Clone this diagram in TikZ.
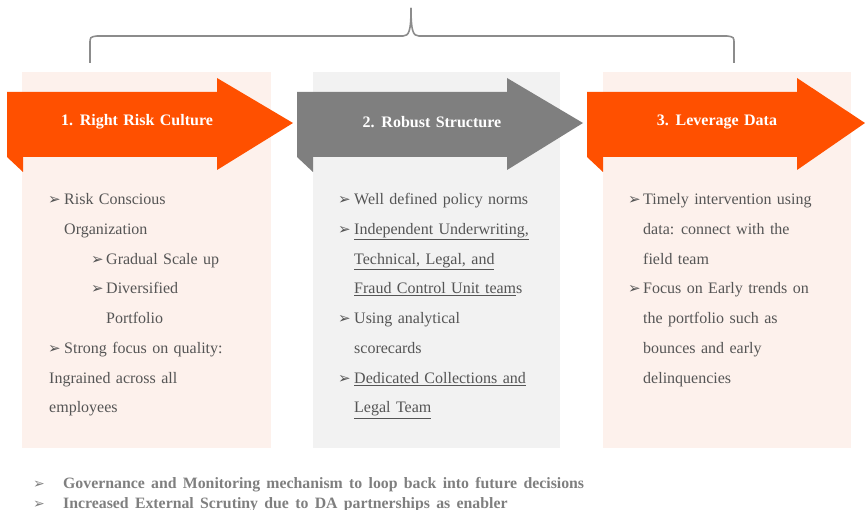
\documentclass[tikz,border=0pt]{standalone}
\usepackage{fontspec}
\setmainfont[WordSpace=1.35]{Liberation Serif}
\newfontfamily\btmfont[WordSpace=1.6]{Liberation Serif}
\newfontfamily\dvfont{DejaVu Sans}
\definecolor{orangeA}{HTML}{FF5000}
\definecolor{grayA}{HTML}{7F7F7F}
\definecolor{panelA}{HTML}{FDF1EC}
\definecolor{panelB}{HTML}{F2F2F2}
\definecolor{braceC}{HTML}{8C8C8C}
\definecolor{txtgray}{HTML}{555555}
\definecolor{btmgray}{HTML}{7F7F7F}
\newcommand\bigarrowshape[3]{%
  \fill[#3] (#1,92) -- (#1+210,92) -- (#1+210,78) -- (#2,123) -- (#1+210,170) -- (#1+210,157)
    -- (#1+16,157) -- (#1+16,172) -- (#1,157) -- cycle;}
\begin{document}
\begin{tikzpicture}[x=1pt,y=-1pt,
  txt/.style={anchor=base west, inner sep=0pt, text=txtgray, font=\fontsize{16}{18}\selectfont},
  bul/.style={anchor=base west, inner sep=0pt, text=txtgray, font=\dvfont\fontsize{15}{16}\selectfont},
  arrowlabel/.style={inner sep=0pt, text=white, font=\bfseries\fontsize{16}{18}\selectfont},
  btm/.style={anchor=base west, inner sep=0pt, text=btmgray, font=\btmfont\bfseries\fontsize{15.8}{16}\selectfont},
  btmbul/.style={anchor=base west, inner sep=0pt, text=btmgray, font=\dvfont\fontsize{14}{16}\selectfont},
  bracestyle/.style={draw=braceC, line width=1.6pt}]
\useasboundingbox (0,0) rectangle (865,510);
\clip (0,0) rectangle (865,510);
% panels
\fill[panelA] (22,72) rectangle (271,448);
\fill[panelB] (313,72) rectangle (560,448);
\fill[panelA] (603,72) rectangle (851,448);
% brace
\draw[bracestyle] (90,63) -- (90,44) .. controls (90,37) .. (97,36) -- (403,36)
  .. controls (409,36) and (411,31) .. (411,8);
\draw[bracestyle] (411,8) .. controls (411,31) and (413,36) .. (419,36) -- (727,36)
  .. controls (734,37) .. (734,44) -- (734,63);
% arrows
\bigarrowshape{7}{293}{orangeA}
\bigarrowshape{297}{583}{grayA}
\bigarrowshape{587}{865}{orangeA}
\node[arrowlabel] (a1) at (137,122) {1. Right Risk Culture};
\node[arrowlabel] (a2) at (432,122) {2. Robust Structure};
\node[arrowlabel] (a3) at (717,122) {3. Leverage Data};
% panel 1
\node[bul] (p1b1) at (48,205) {➢};
\node[txt] (p1l1) at (64,205) {Risk Conscious};
\node[txt] (p1l2) at (64,234.7) {Organization};
\node[bul] (p1b3) at (91,264.4) {➢};
\node[txt] (p1l3) at (106,264.4) {Gradual Scale up};
\node[bul] (p1b4) at (91,294) {➢};
\node[txt] (p1l4) at (106,294) {Diversified};
\node[txt] (p1l5) at (106,323.8) {Portfolio};
\node[bul] (p1b6) at (48,353.5) {➢};
\node[txt] (p1l6) at (64,353.5) {Strong focus on quality:};
\node[txt] (p1l7) at (49,383.2) {Ingrained across all};
\node[txt] (p1l8) at (49,413) {employees};
% panel 2
\node[bul] (p2b1) at (338,205) {➢};
\node[txt] (p2l1) at (354,205) {Well defined policy norms};
\node[bul] (p2b2) at (338,234.7) {➢};
\node[txt] (p2l2) at (354,234.7) {\underline{Independent Underwriting,}};
\node[txt] (p2l3) at (354,264.4) {\underline{Technical, Legal, and}};
\node[txt] (p2l4) at (354,294) {\underline{Fraud Control Unit team}s};
\node[bul] (p2b5) at (338,323.8) {➢};
\node[txt] (p2l5) at (354,323.8) {Using analytical};
\node[txt] (p2l6) at (354,353.5) {scorecards};
\node[bul] (p2b7) at (338,383.2) {➢};
\node[txt] (p2l7) at (354,383.2) {\underline{Dedicated Collections and}};
\node[txt] (p2l8) at (354,413) {\underline{Legal Team}};
% panel 3
\node[bul] (p3b1) at (628,205) {➢};
\node[txt] (p3l1) at (643,205) {Timely intervention using};
\node[txt] (p3l2) at (643,234.7) {data: connect with the};
\node[txt] (p3l3) at (643,264.4) {field team};
\node[bul] (p3b4) at (628,294) {➢};
\node[txt] (p3l4) at (643,294) {Focus on Early trends on};
\node[txt] (p3l5) at (643,323.8) {the portfolio such as};
\node[txt] (p3l6) at (643,353.5) {bounces and early};
\node[txt] (p3l7) at (643,383.2) {delinquencies};
% bottom
\node[btmbul] (bb1) at (33,489) {➢};
\node[btm] (bt1) at (63,489) {Governance and Monitoring mechanism to loop back into future decisions};
\node[btmbul] (bb2) at (33,508) {➢};
\node[btm] (bt2) at (63,508) {Increased External Scrutiny due to DA partnerships as enabler};
\end{tikzpicture}
\end{document}
